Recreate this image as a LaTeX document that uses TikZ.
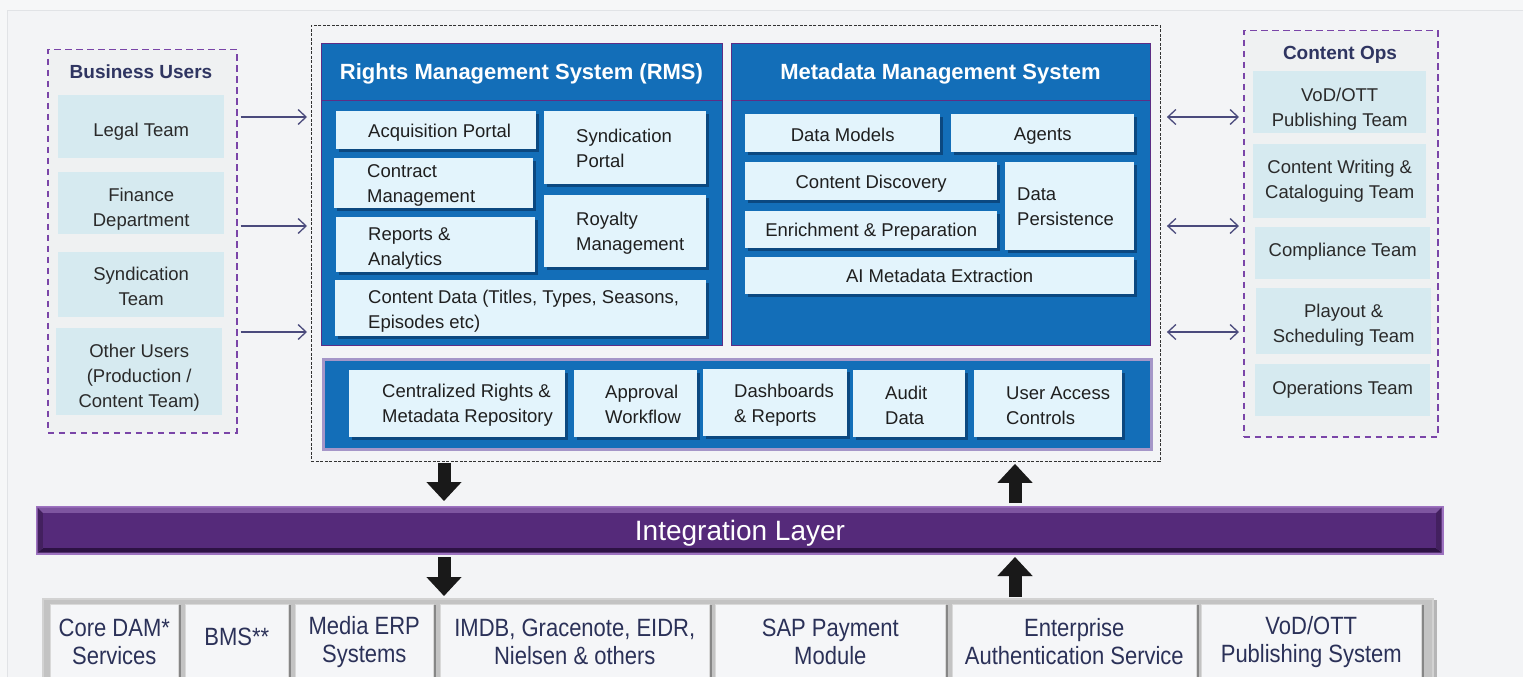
\documentclass[tikz,border=0pt]{standalone}
\usepackage{fontspec}
\setmainfont{Liberation Sans}
\newfontfamily\narrowfont{Liberation Sans}[FakeStretch=0.88]
\usetikzlibrary{arrows.meta,shadows}
\definecolor{bgc}{HTML}{F3F4F6}
\definecolor{bgtop}{HTML}{F6F7F8}
\definecolor{framec}{HTML}{E1E3E6}
\definecolor{grpfill}{HTML}{EFF1F2}
\definecolor{pdash}{HTML}{7A45A8}
\definecolor{teal}{HTML}{D6EAF0}
\definecolor{navy}{HTML}{2F3561}
\definecolor{arrc}{HTML}{4A4A7C}
\definecolor{blue}{HTML}{136EB8}
\definecolor{bord}{HTML}{5E2D85}
\definecolor{lbl}{HTML}{E3F4FC}
\definecolor{shd}{HTML}{0A3F73}
\definecolor{txt}{HTML}{1F1F1F}
\definecolor{txt2}{HTML}{2A2A2A}
\definecolor{lpur}{HTML}{A596C8}
\definecolor{ipur}{HTML}{552A7A}
\definecolor{ipurlt}{HTML}{9D72C0}
\definecolor{ipurtop}{HTML}{7E55A0}
\definecolor{ipurbot}{HTML}{2D1244}
\definecolor{ipurside}{HTML}{43205F}
\definecolor{sysbg}{HTML}{C3C3C3}
\definecolor{sysbord}{HTML}{D2D2D2}
\definecolor{sysbox}{HTML}{F5F6F8}
\definecolor{systxt}{HTML}{2B3158}
\newcommand\bodyf{\fontsize{18.5}{25}\selectfont}
\newcommand\ttlf{\fontsize{22}{26}\selectfont\bfseries}
\newcommand\grpf{\fontsize{19}{23}\selectfont\bfseries}
\newcommand\sysf{\narrowfont\fontsize{25}{28}\selectfont}
% centred box: name x1 y1 x2 y2 boxstyle textstyle text
\newcommand\bxc[8]{%
  \pgfmathsetmacro\bw{#4-#2}\pgfmathsetmacro\bh{#5-#3}%
  \node[#6, anchor=north west, minimum width=\bw pt, minimum height=\bh pt] (#1) at (#2,#3) {};
  \node[ctxt, #7] (#1T) at (#1.center) {#8};}
% left-aligned box: name x1 y1 x2 y2 boxstyle textstyle text
\newcommand\bxl[8]{%
  \pgfmathsetmacro\bw{#4-#2}\pgfmathsetmacro\bh{#5-#3}%
  \node[#6, anchor=north west, minimum width=\bw pt, minimum height=\bh pt] (#1) at (#2,#3) {};
  \node[ltxt, #7] (#1T) at (#1.west) {#8};}
\tikzset{
  base/.style={rectangle, inner sep=0pt},
  grp/.style={base, fill=grpfill, draw=pdash, line width=1.5pt, dash pattern=on 6.5pt off 4.5pt},
  tbox/.style={base, fill=teal},
  lbox/.style={base, fill=lbl, drop shadow={shadow xshift=3pt, shadow yshift=-3pt, fill=shd, opacity=0.8}},
  ctxt/.style={inner sep=0pt, font=\bodyf, text=txt, align=center},
  ltxt/.style={inner sep=0pt, font=\bodyf, text=txt, align=left, anchor=west},
  tt/.style={text=txt2},
  bluebox/.style={base, fill=blue, draw=bord, line width=1pt},
  bluebox2/.style={base, fill=blue, draw=lpur, line width=3pt},
  corebox/.style={base, draw=black!80, line width=0.9pt, dash pattern=on 3pt off 1.5pt},
  ttl/.style={font=\ttlf, text=white, inner sep=0pt},
  gttl/.style={font=\grpf, text=navy, inner sep=0pt},
  narr/.style={draw=arrc, line width=1.3pt, -{Straight Barb[length=8pt,width=15pt]}},
  narr2/.style={draw=arrc, line width=1.3pt, {Straight Barb[length=8pt,width=15pt]}-{Straight Barb[length=8pt,width=15pt]}},
  blk/.style={draw=black!90, line width=13pt, -{Triangle[length=19pt,width=34pt]}},
  blks/.style={draw=black!45, opacity=0.5, line width=13pt, -{Triangle[length=19pt,width=34pt]}, xshift=2.5pt, yshift=-2.5pt},
  sysc/.style={base, fill=sysbg, draw=sysbord, line width=2pt, drop shadow={shadow xshift=4pt, shadow yshift=-1pt, fill=black!35, opacity=0.8}},
  sbox/.style={base, fill=sysbox, draw=black!15, line width=0.6pt, drop shadow={shadow xshift=3pt, shadow yshift=-1pt, fill=black!50, opacity=0.9}},
  stxt/.style={font=\sysf, text=systxt},
}
\begin{document}
\begin{tikzpicture}[x=1pt,y=-1pt]
\useasboundingbox (0,0) rectangle (1523,677);
\clip (0,0) rectangle (1523,677);
% background
\fill[bgtop] (0,0) rectangle (1523,677);
\fill[bgc] (7,11) rectangle (1523,677);
\draw[framec, line width=1pt] (7,690) -- (7,11) -- (1523,11);

% helper coordinates
\coordinate (y1) at (0,117);
\coordinate (y2) at (0,226);
\coordinate (y3) at (0,332);
\coordinate (hy) at (0,100);
\coordinate (xl) at (444,0);
\coordinate (xr) at (1015,0);

% Business users group
\bxc{bu}{47}{49}{236}{432}{grp}{}{}
\node[gttl] (but) at (141,72) {Business Users};
\bxc{legal}{58}{95}{224}{158}{tbox}{tt, yshift=-5pt}{Legal Team}
\bxc{fin}{58}{172}{224}{234}{tbox}{tt, yshift=-6pt}{Finance\\Department}
\bxc{synd}{58}{252}{224}{317}{tbox}{tt, yshift=-2pt}{Syndication\\Team}
\bxc{oth}{56}{328}{222}{415}{tbox}{tt, yshift=-6pt}{Other Users\\(Production /\\Content Team)}

% Content Ops group
\bxc{co}{1243}{30}{1437}{436}{grp}{}{}
\node[gttl] (cot) at (1340,55) {Content Ops};
\bxc{vod}{1253}{71}{1426}{133}{tbox}{tt, yshift=-7pt}{VoD/OTT\\Publishing Team}
\bxc{cw}{1253}{144}{1426}{218}{tbox}{tt}{Content Writing \&\\Cataloguing Team}
\bxc{comp}{1255}{227}{1430}{279}{tbox}{tt, yshift=1pt}{Compliance Team}
\bxc{play}{1256}{288}{1431}{354}{tbox}{tt, yshift=-4pt}{Playout \&\\Scheduling Team}
\bxc{ops}{1255}{364}{1430}{416}{tbox}{tt}{Operations Team}

% core dashed box
\bxc{core}{311}{25}{1160}{461}{corebox}{}{}

% RMS
\bxc{rms}{321}{43}{722}{345}{bluebox}{}{}
\draw[bord, line width=1pt] (rms.west |- hy) -- (rms.east |- hy);
\node[ttl] (rmst) at (521.5,74) {Rights Management System (RMS)};
\bxl{acq}{336}{111}{536}{149}{lbox}{xshift=32pt, yshift=-3pt}{Acquisition Portal}
\bxl{con}{334}{158}{533}{208}{lbox}{xshift=33pt, yshift=-2pt}{Contract\\Management}
\bxl{rep}{336}{217}{535}{272}{lbox}{xshift=32pt, yshift=-4pt}{Reports \&\\Analytics}
\bxl{sp}{544}{111}{706}{184}{lbox}{xshift=32pt, yshift=-1pt}{Syndication\\Portal}
\bxl{roy}{544}{195}{706}{267}{lbox}{xshift=32pt, yshift=-2pt}{Royalty\\Management}
\bxl{cd}{335}{280}{706}{336}{lbox}{xshift=33pt, yshift=-3pt}{Content Data (Titles, Types, Seasons,\\Episodes etc)}

% MMS
\bxc{mms}{731}{43}{1150}{345}{bluebox}{}{}
\draw[bord, line width=1pt] (mms.west |- hy) -- (mms.east |- hy);
\node[ttl] (mmst) at (940.5,74) {Metadata Management System};
\bxc{dm}{745}{114}{940}{152}{lbox}{yshift=-2pt}{Data Models}
\bxc{ag}{951}{114}{1134}{152}{lbox}{yshift=-3pt}{Agents}
\bxc{cdis}{745}{162}{997}{200}{lbox}{yshift=-3pt}{Content Discovery}
\bxc{enr}{745}{211}{997}{248}{lbox}{yshift=-2pt}{Enrichment \& Preparation}
\bxl{dp}{1005}{162}{1134}{250}{lbox}{xshift=12pt, yshift=-1pt}{Data\\Persistence}
\bxc{ai}{745}{257}{1134}{294}{lbox}{}{AI Metadata Extraction}

% shared services
\bxc{shr}{322}{358}{1150}{448}{bluebox2}{}{}
\bxl{crep}{349}{370}{565}{437}{lbox}{xshift=33pt, yshift=-2pt}{Centralized Rights \&\\Metadata Repository}
\bxl{apw}{574}{370}{697}{437}{lbox}{xshift=31pt, yshift=-1pt}{Approval\\Workflow}
\bxl{dsh}{703}{369}{847}{436}{lbox}{xshift=31pt, yshift=-3pt}{Dashboards\\\& Reports}
\bxl{aud}{853}{370}{965}{437}{lbox}{xshift=32pt, yshift=-2pt}{Audit\\Data}
\bxl{uac}{974}{370}{1122}{437}{lbox}{xshift=32pt, yshift=-2pt}{User Access\\Controls}

% user arrows
\draw[narr, shorten <=3pt, shorten >=4pt] (bu.east |- y1) -- (core.west |- y1);
\draw[narr, shorten <=3pt, shorten >=4pt] (bu.east |- y2) -- (core.west |- y2);
\draw[narr, shorten <=3pt, shorten >=4pt] (bu.east |- y3) -- (core.west |- y3);
\draw[narr2, shorten <=6pt, shorten >=4pt] (core.east |- y1) -- (co.west |- y1);
\draw[narr2, shorten <=6pt, shorten >=4pt] (core.east |- y2) -- (co.west |- y2);
\draw[narr2, shorten <=6pt, shorten >=4pt] (core.east |- y3) -- (co.west |- y3);

% Integration layer bar (bevelled)
\fill[ipurlt] (36,506) rectangle (1443,554);
\fill[ipurtop] (37.5,507.5) -- (1441.5,507.5) -- (1436,513) -- (43,513) -- cycle;
\fill[ipurbot] (37.5,552.5) -- (1441.5,552.5) -- (1436,548) -- (43,548) -- cycle;
\fill[ipurside] (37.5,507.5) -- (43,513) -- (43,548) -- (37.5,552.5) -- cycle;
\fill[ipurside] (1441.5,507.5) -- (1436,513) -- (1436,548) -- (1441.5,552.5) -- cycle;
\fill[ipur] (43,513) rectangle (1436,548);
\bxc{intg}{36}{506}{1443}{554}{base, draw=ipurlt, line width=1pt}{font=\fontsize{28}{32}\selectfont, text=white, yshift=-3pt}{Integration Layer}

% systems row
\bxc{sys}{42}{598}{1432}{700}{sysc}{}{}
\bxc{dam}{50}{604}{178}{679}{sbox}{stxt}{Core DAM*\\Services}
\bxc{bms}{185}{604}{288}{679}{sbox}{stxt, yshift=5pt}{BMS**}
\bxc{erp}{295}{604}{433}{679}{sbox}{stxt}{Media ERP\\Systems}
\bxc{imdb}{440}{604}{709}{679}{sbox}{stxt}{IMDB, Gracenote, EIDR,\\Nielsen \& others}
\bxc{sap}{715}{604}{945}{679}{sbox}{stxt}{SAP Payment\\Module}
\bxc{ent}{952}{604}{1196}{679}{sbox}{stxt}{Enterprise\\Authentication Service}
\bxc{vods}{1201}{604}{1421}{679}{sbox}{stxt}{VoD/OTT\\Publishing System}

% block arrows
\draw[blks, shorten <=1pt, shorten >=5pt] (core.south -| xl) -- (intg.north -| xl);
\draw[blk, shorten <=1pt, shorten >=5pt] (core.south -| xl) -- (intg.north -| xl);
\draw[blks, shorten <=2pt, shorten >=2pt] (intg.south -| xl) -- (sys.north -| xl);
\draw[blk, shorten <=2pt, shorten >=2pt] (intg.south -| xl) -- (sys.north -| xl);
\draw[blks, shorten <=3pt, shorten >=2pt] (intg.north -| xr) -- (core.south -| xr);
\draw[blk, shorten <=3pt, shorten >=2pt] (intg.north -| xr) -- (core.south -| xr);
\draw[blks, shorten <=1pt, shorten >=2pt] (sys.north -| xr) -- (intg.south -| xr);
\draw[blk, shorten <=1pt, shorten >=2pt] (sys.north -| xr) -- (intg.south -| xr);
\end{tikzpicture}
\end{document}
